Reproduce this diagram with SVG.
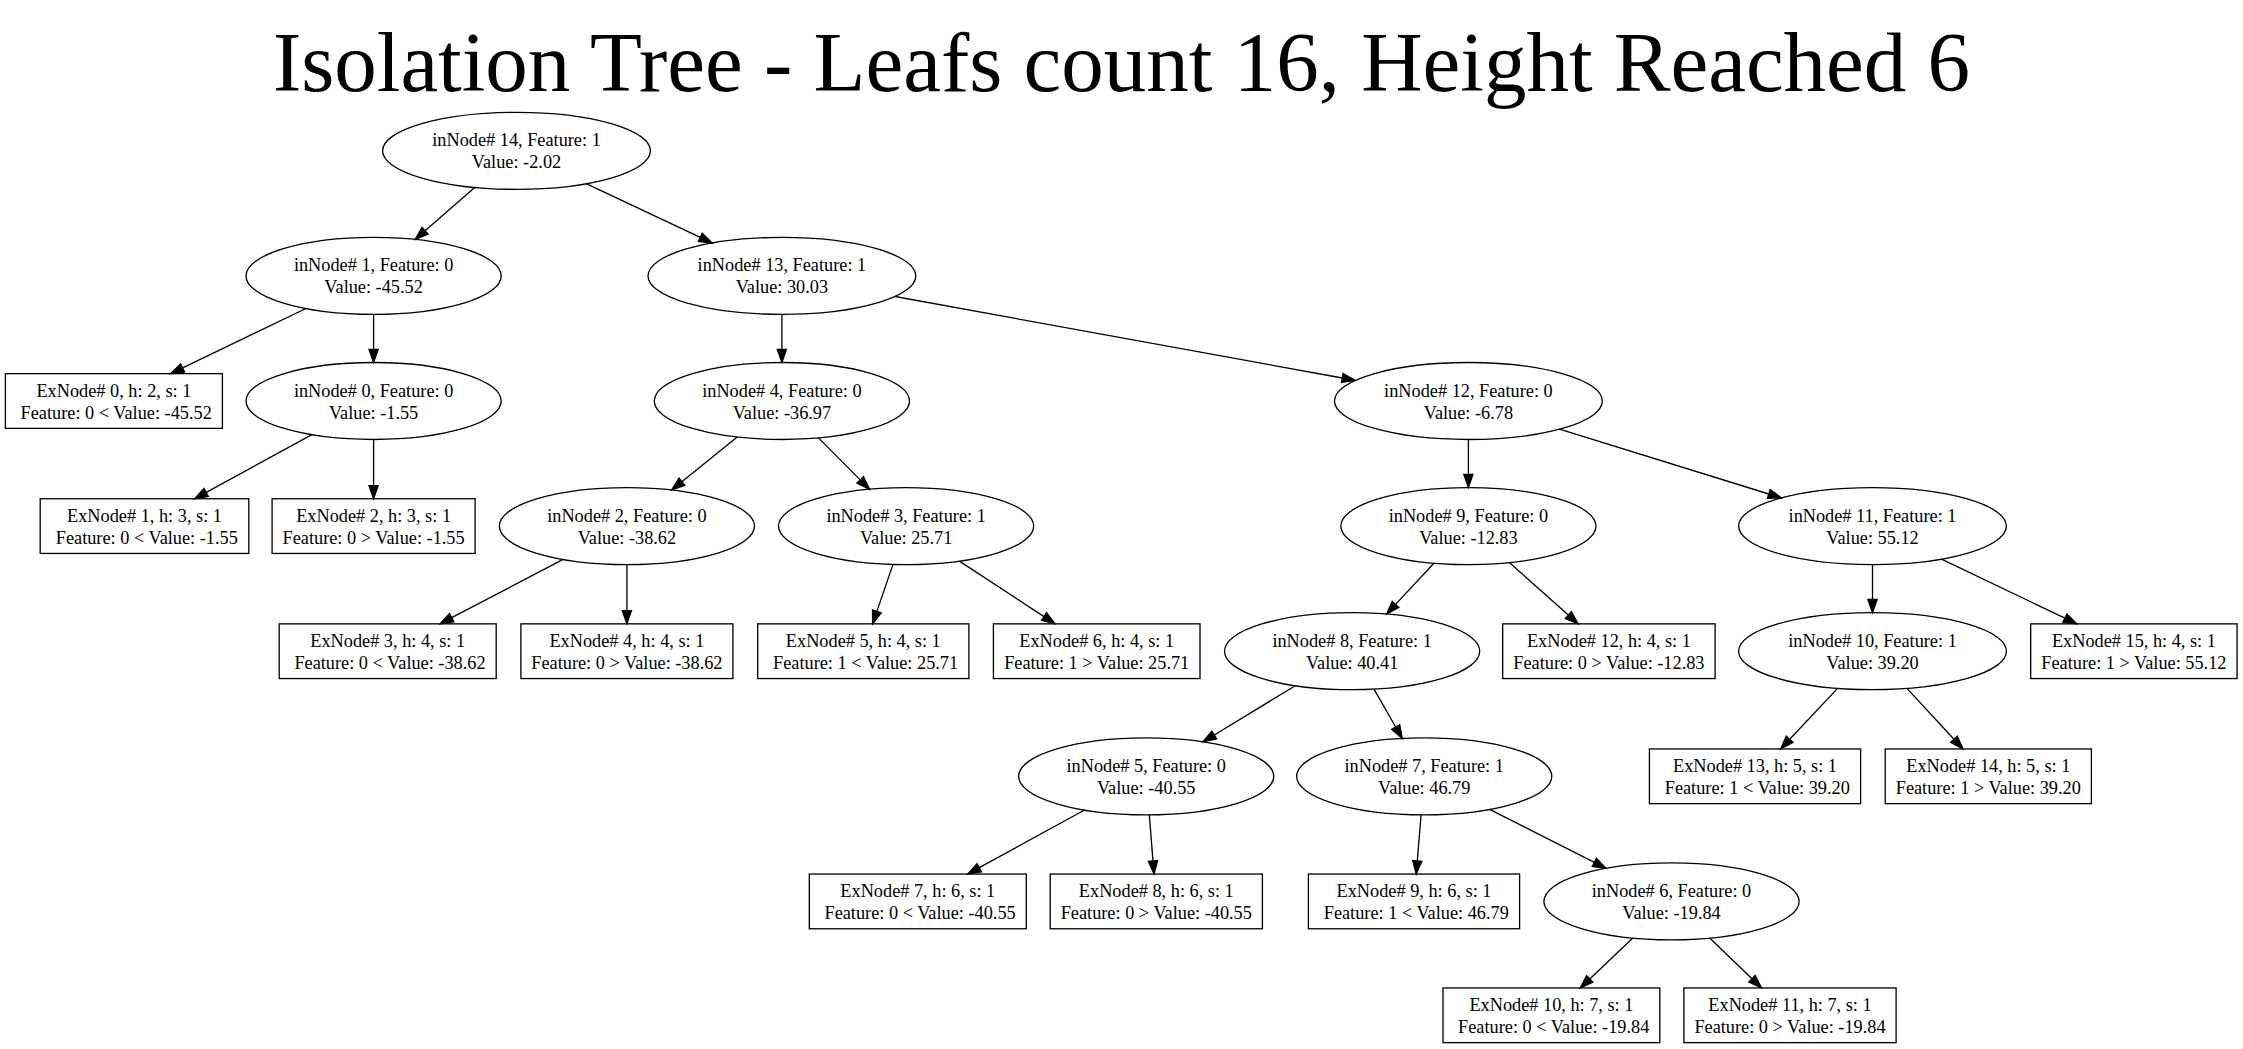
<svg xmlns="http://www.w3.org/2000/svg" width="2243" height="1049" viewBox="0 0 2243 1049">
<style>
  .nd ellipse, .nd rect { fill: none; stroke: #000; stroke-width: 1.32; }
  text { font-family: "Liberation Serif", "Times New Roman", serif; font-size: 18.3px; text-anchor: middle; fill: #000; }
  .title { font-size: 85px; }
  #edges line { stroke: #000; stroke-width: 1.32; marker-end: url(#ah); }
</style>
<defs>
  <marker id="ah" markerUnits="userSpaceOnUse" markerWidth="13.2" markerHeight="9.2" viewBox="0 0 13.2 9.2" refX="0" refY="4.6" orient="auto" overflow="visible">
    <path d="M0,0 L13.2,4.6 L0,9.2 z" fill="#000" stroke="#000" stroke-width="1.32"/>
  </marker>
</defs>
<rect x="0" y="0" width="2243" height="1049" fill="#fff"/>
<text class="title" x="1121.5" y="91">Isolation Tree - Leafs count 16, Height Reached 6</text>

<g id="edges">
  <line x1="474.7" y1="187.4" x2="425.1" y2="230.8"/>
  <line x1="586.2" y1="183.7" x2="700.3" y2="237.4"/>
  <line x1="305.9" y1="308.5" x2="182.6" y2="367.9"/>
  <line x1="373.6" y1="314.4" x2="373.6" y2="349.3"/>
  <line x1="311.9" y1="434.7" x2="206.2" y2="492.4"/>
  <line x1="373.6" y1="439.5" x2="373.6" y2="485.55"/>
  <line x1="781.9" y1="314.4" x2="781.9" y2="349.3"/>
  <line x1="895.0" y1="296.5" x2="1342.3" y2="378.0"/>
  <line x1="737.2" y1="437.1" x2="681.9" y2="481.7"/>
  <line x1="818.5" y1="437.9" x2="860.2" y2="479.9"/>
  <line x1="563.1" y1="559.45" x2="451.7" y2="617.7"/>
  <line x1="626.9" y1="564.6" x2="626.9" y2="610.65"/>
  <line x1="893.0" y1="564.4" x2="876.9" y2="611.4"/>
  <line x1="959.4" y1="561.1" x2="1044.0" y2="616.6"/>
  <line x1="1468.4" y1="439.5" x2="1468.4" y2="474.4"/>
  <line x1="1559.5" y1="429.2" x2="1768.8" y2="494.0"/>
  <line x1="1433.9" y1="563.2" x2="1395.6" y2="604.4"/>
  <line x1="1509.4" y1="562.6" x2="1568.3" y2="615.1"/>
  <line x1="1295.3" y1="685.7" x2="1214.3" y2="734.95"/>
  <line x1="1374.0" y1="689.1" x2="1395.7" y2="727.0"/>
  <line x1="1084.6" y1="810.0" x2="979.3" y2="867.7"/>
  <line x1="1149.3" y1="814.8" x2="1153.0" y2="860.9"/>
  <line x1="1421.1" y1="814.8" x2="1417.3" y2="860.9"/>
  <line x1="1489.6" y1="809.4" x2="1594.3" y2="862.4"/>
  <line x1="1632.8" y1="938.1" x2="1589.8" y2="978.9"/>
  <line x1="1709.7" y1="938.1" x2="1752.0" y2="978.8"/>
  <line x1="1872.5" y1="564.6" x2="1872.5" y2="599.5"/>
  <line x1="1941.5" y1="559.1" x2="2064.9" y2="618.15"/>
  <line x1="1837.6" y1="688.4" x2="1789.7" y2="739.3"/>
  <line x1="1906.9" y1="688.4" x2="1954.0" y2="739.3"/>
</g>

<g id="in14" class="nd"><ellipse cx="516.5" cy="150.8" rx="133.9" ry="38.5"/><text x="516.5" y="146.3">inNode# 14, Feature: 1</text><text x="516.5" y="168.3">Value: -2.02</text></g>
<g id="in1" class="nd"><ellipse cx="373.6" cy="275.9" rx="127.6" ry="38.5"/><text x="373.6" y="271.4">inNode# 1, Feature: 0</text><text x="373.6" y="293.4">Value: -45.52</text></g>
<g id="in13" class="nd"><ellipse cx="781.9" cy="275.9" rx="133.9" ry="38.5"/><text x="781.9" y="271.4">inNode# 13, Feature: 1</text><text x="781.9" y="293.4">Value: 30.03</text></g>
<g id="in0" class="nd"><ellipse cx="373.6" cy="401" rx="127.6" ry="38.5"/><text x="373.6" y="396.5">inNode# 0, Feature: 0</text><text x="373.6" y="418.5">Value: -1.55</text></g>
<g id="in4" class="nd"><ellipse cx="781.9" cy="401" rx="127.6" ry="38.5"/><text x="781.9" y="396.5">inNode# 4, Feature: 0</text><text x="781.9" y="418.5">Value: -36.97</text></g>
<g id="in12" class="nd"><ellipse cx="1468.4" cy="401" rx="133.9" ry="38.5"/><text x="1468.4" y="396.5">inNode# 12, Feature: 0</text><text x="1468.4" y="418.5">Value: -6.78</text></g>
<g id="in2" class="nd"><ellipse cx="626.9" cy="526.1" rx="127.6" ry="38.5"/><text x="626.9" y="521.6">inNode# 2, Feature: 0</text><text x="626.9" y="543.6">Value: -38.62</text></g>
<g id="in3" class="nd"><ellipse cx="906.1" cy="526.1" rx="127.6" ry="38.5"/><text x="906.1" y="521.6">inNode# 3, Feature: 1</text><text x="906.1" y="543.6">Value: 25.71</text></g>
<g id="in9" class="nd"><ellipse cx="1468.4" cy="526.1" rx="127.6" ry="38.5"/><text x="1468.4" y="521.6">inNode# 9, Feature: 0</text><text x="1468.4" y="543.6">Value: -12.83</text></g>
<g id="in11" class="nd"><ellipse cx="1872.5" cy="526.1" rx="133.9" ry="38.5"/><text x="1872.5" y="521.6">inNode# 11, Feature: 1</text><text x="1872.5" y="543.6">Value: 55.12</text></g>
<g id="in8" class="nd"><ellipse cx="1352.1" cy="651.2" rx="127.6" ry="38.5"/><text x="1352.1" y="646.7">inNode# 8, Feature: 1</text><text x="1352.1" y="668.7">Value: 40.41</text></g>
<g id="in10" class="nd"><ellipse cx="1872.5" cy="651.2" rx="133.9" ry="38.5"/><text x="1872.5" y="646.7">inNode# 10, Feature: 1</text><text x="1872.5" y="668.7">Value: 39.20</text></g>
<g id="in5" class="nd"><ellipse cx="1146.2" cy="776.3" rx="127.6" ry="38.5"/><text x="1146.2" y="771.8">inNode# 5, Feature: 0</text><text x="1146.2" y="793.8">Value: -40.55</text></g>
<g id="in7" class="nd"><ellipse cx="1424.2" cy="776.3" rx="127.6" ry="38.5"/><text x="1424.2" y="771.8">inNode# 7, Feature: 1</text><text x="1424.2" y="793.8">Value: 46.79</text></g>
<g id="in6" class="nd"><ellipse cx="1671.5" cy="901.4" rx="127.6" ry="38.5"/><text x="1671.5" y="896.9">inNode# 6, Feature: 0</text><text x="1671.5" y="918.9">Value: -19.84</text></g>

<g id="ex0" class="nd"><rect x="5.4" y="373.65" width="217" height="54.7"/><text x="113.9" y="396.5">ExNode# 0, h: 2, s: 1</text><text x="116.2" y="418.5">Feature: 0 &lt; Value: -45.52</text></g>
<g id="ex1" class="nd"><rect x="40.2" y="498.75" width="208.6" height="54.7"/><text x="144.5" y="521.6">ExNode# 1, h: 3, s: 1</text><text x="146.8" y="543.6">Feature: 0 &lt; Value: -1.55</text></g>
<g id="ex2" class="nd"><rect x="272.1" y="498.75" width="203" height="54.7"/><text x="373.6" y="521.6">ExNode# 2, h: 3, s: 1</text><text x="373.6" y="543.6">Feature: 0 &gt; Value: -1.55</text></g>
<g id="ex3" class="nd"><rect x="279.2" y="623.85" width="217" height="54.7"/><text x="387.7" y="646.7">ExNode# 3, h: 4, s: 1</text><text x="390" y="668.7">Feature: 0 &lt; Value: -38.62</text></g>
<g id="ex4" class="nd"><rect x="520.9" y="623.85" width="212" height="54.7"/><text x="626.9" y="646.7">ExNode# 4, h: 4, s: 1</text><text x="626.9" y="668.7">Feature: 0 &gt; Value: -38.62</text></g>
<g id="ex5" class="nd"><rect x="757.7" y="623.85" width="211.2" height="54.7"/><text x="863.3" y="646.7">ExNode# 5, h: 4, s: 1</text><text x="865.6" y="668.7">Feature: 1 &lt; Value: 25.71</text></g>
<g id="ex6" class="nd"><rect x="993.4" y="623.85" width="206.6" height="54.7"/><text x="1096.7" y="646.7">ExNode# 6, h: 4, s: 1</text><text x="1096.7" y="668.7">Feature: 1 &gt; Value: 25.71</text></g>
<g id="ex12" class="nd"><rect x="1502.7" y="623.85" width="212.4" height="54.7"/><text x="1608.9" y="646.7">ExNode# 12, h: 4, s: 1</text><text x="1608.9" y="668.7">Feature: 0 &gt; Value: -12.83</text></g>
<g id="ex15" class="nd"><rect x="2030.7" y="623.85" width="206.4" height="54.7"/><text x="2133.9" y="646.7">ExNode# 15, h: 4, s: 1</text><text x="2133.9" y="668.7">Feature: 1 &gt; Value: 55.12</text></g>
<g id="ex13" class="nd"><rect x="1649.4" y="748.95" width="211.2" height="54.7"/><text x="1755" y="771.8">ExNode# 13, h: 5, s: 1</text><text x="1757.3" y="793.8">Feature: 1 &lt; Value: 39.20</text></g>
<g id="ex14" class="nd"><rect x="1885.2" y="748.95" width="206.2" height="54.7"/><text x="1988.3" y="771.8">ExNode# 14, h: 5, s: 1</text><text x="1988.3" y="793.8">Feature: 1 &gt; Value: 39.20</text></g>
<g id="ex7" class="nd"><rect x="809.3" y="874.05" width="217" height="54.7"/><text x="917.8" y="896.9">ExNode# 7, h: 6, s: 1</text><text x="920.1" y="918.9">Feature: 0 &lt; Value: -40.55</text></g>
<g id="ex8" class="nd"><rect x="1050.2" y="874.05" width="212.2" height="54.7"/><text x="1156.3" y="896.9">ExNode# 8, h: 6, s: 1</text><text x="1156.3" y="918.9">Feature: 0 &gt; Value: -40.55</text></g>
<g id="ex9" class="nd"><rect x="1308.4" y="874.05" width="211.2" height="54.7"/><text x="1414" y="896.9">ExNode# 9, h: 6, s: 1</text><text x="1416.3" y="918.9">Feature: 1 &lt; Value: 46.79</text></g>
<g id="ex10" class="nd"><rect x="1443" y="987.95" width="216.8" height="54.7"/><text x="1551.4" y="1010.8">ExNode# 10, h: 7, s: 1</text><text x="1553.7" y="1032.8">Feature: 0 &lt; Value: -19.84</text></g>
<g id="ex11" class="nd"><rect x="1683.9" y="987.95" width="212.2" height="54.7"/><text x="1790" y="1010.8">ExNode# 11, h: 7, s: 1</text><text x="1790" y="1032.8">Feature: 0 &gt; Value: -19.84</text></g>
</svg>
